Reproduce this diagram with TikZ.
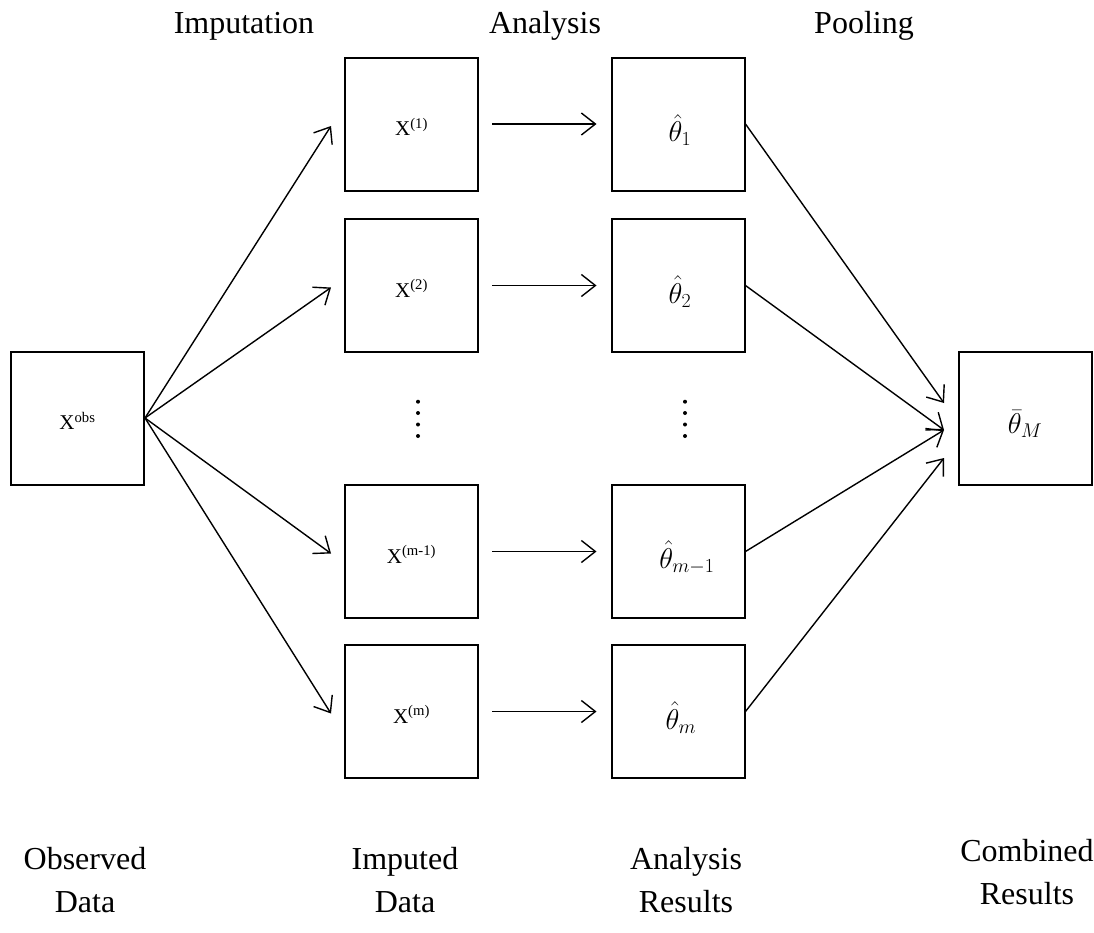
\documentclass[tikz,border=0pt]{standalone}
\usepackage{fontspec}
\setmainfont{Liberation Serif}
\usetikzlibrary{arrows.meta}
\begin{document}
\begin{tikzpicture}[x=1pt,y=-1pt,
  box/.style={draw,line width=2pt,minimum width=133pt,minimum height=133pt,inner sep=0pt},
  arr/.style={line width=1.4pt,-{Straight Barb[length=14pt,width=22pt,line width=1.4pt]}},
  lab/.style={font=\fontsize{32}{43}\selectfont,align=center},
  xtxt/.style={font=\fontsize{21}{24}\selectfont},
  mtxt/.style={font=\fontsize{24}{28}\selectfont,scale=1.15,transform shape},
  dot/.style={fill=black}
]
\useasboundingbox (0,0) rectangle (1094,932);

% titles
\node[lab,anchor=base] (timp) at (244,33) {Imputation};
\node[lab,anchor=base] (tana) at (545,33) {Analysis};
\node[lab,anchor=base] (tpool) at (864,33) {Pooling};

% boxes
\node[box] (obs) at (77.5,418) {};
\node[xtxt] (obst) at (77.5,421) {X\textsuperscript{obs}};

\node[box] (x1) at (411.5,124) {};
\node[box] (x2) at (411.5,285.5) {};
\node[box] (x3) at (411.5,551.5) {};
\node[box] (x4) at (411.5,711.5) {};
\node[xtxt] (x1t) at (411.5,127) {X\textsuperscript{(1)}};
\node[xtxt] (x2t) at (411.5,288.5) {X\textsuperscript{(2)}};
\node[xtxt] (x3t) at (411.5,554.5) {X\textsuperscript{(m-1)}};
\node[xtxt] (x4t) at (411.5,714.5) {X\textsuperscript{(m)}};

\node[box] (h1) at (678,124) {};
\node[box] (h2) at (678,285.5) {};
\node[box] (h3) at (678,551.5) {};
\node[box] (h4) at (678,711.5) {};
\node[mtxt] (h1t) at (680,130) {$\hat{\theta}_1$};
\node[mtxt] (h2t) at (680,291.5) {$\hat{\theta}_2$};
\node[mtxt] (h3t) at (687,557.5) {$\hat{\theta}_{m-1}$};
\node[mtxt] (h4t) at (681,717.5) {$\hat{\theta}_m$};

\node[box] (comb) at (1025.5,418) {};
\node[mtxt] (combt) at (1025,424) {$\bar{\theta}_M$};

% dots
\foreach \y in {401.7,413,424.5,436}{
  \fill[dot] (418,\y) circle (2pt);
  \fill[dot] (685,\y) circle (2pt);
}

% left arrow tips
\coordinate (l1) at (331,126);
\coordinate (l2) at (331,287.5);
\coordinate (l3) at (331,553.5);
\coordinate (l4) at (331,713.5);
\draw[arr] (obs.east) -- (l1);
\draw[arr] (obs.east) -- (l2);
\draw[arr] (obs.east) -- (l3);
\draw[arr] (obs.east) -- (l4);

% middle arrows
\draw[arr,shorten <=13pt,shorten >=14pt] (x1.east) -- (h1.west);
\draw[arr,shorten <=13pt,shorten >=14pt] (x2.east) -- (h2.west);
\draw[arr,shorten <=13pt,shorten >=14pt] (x3.east) -- (h3.west);
\draw[arr,shorten <=13pt,shorten >=14pt] (x4.east) -- (h4.west);

% right arrow tips
\coordinate (r1) at (944,403);
\coordinate (r2) at (944,430);
\coordinate (r3) at (944,430);
\coordinate (r4) at (944,458);
\draw[arr] (h1.east) -- (r1);
\draw[arr] (h2.east) -- (r2);
\draw[arr] (h3.east) -- (r3);
\draw[arr] (h4.east) -- (r4);

% bottom labels
\node[lab,anchor=base] (bobs) at (85,912) {Observed\\Data};
\node[lab,anchor=base] (bimp) at (405,912) {Imputed\\Data};
\node[lab,anchor=base] (bana) at (686,912) {Analysis\\Results};
\node[lab,anchor=base] (bcomb) at (1027,904) {Combined\\Results};
\end{tikzpicture}
\end{document}
